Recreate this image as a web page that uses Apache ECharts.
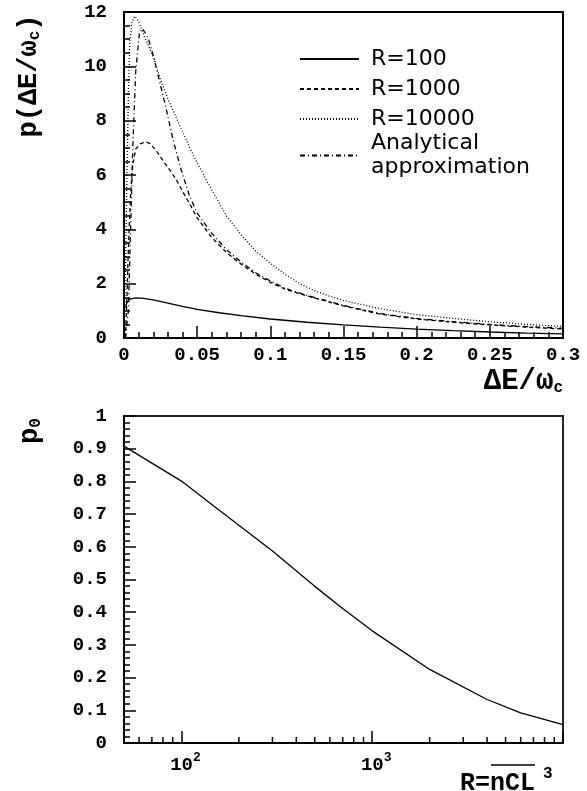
<!DOCTYPE html>
<html><head><meta charset="utf-8">
<script src="https://cdn.jsdelivr.net/npm/echarts@6/dist/echarts.min.js"></script>
<style>html,body{margin:0;padding:0;background:#fff}#c{width:587px;height:791px}</style>
</head><body><div id="c"></div>
<script>
// ---- Top panel: p(dE/wc) vs dE/wc ----
const r100X = [0.001,0.002,0.004,0.008,0.012,0.02,0.03,0.04,0.05,0.065,0.08,0.1,0.125,0.15,0.175,0.2,0.225,0.25,0.275,0.3];
const r100Y = [1.12,1.3,1.43,1.48,1.47,1.4,1.28,1.16,1.05,0.93,0.82,0.7,0.58,0.48,0.4,0.33,0.27,0.22,0.18,0.15];

const r1000X = [0.001,0.002,0.003,0.0045,0.006,0.008,0.011,0.015,0.018,0.022,0.027,0.032,0.036,0.04,0.045,0.05,0.06,0.07,0.08,0.09,0.1,0.11,0.125,0.15,0.175,0.2,0.225,0.25,0.275,0.3];
const r1000Y = [0,1.5,3.3,5.3,6.4,6.95,7.15,7.22,7.15,6.9,6.5,6.13,5.8,5.4,4.93,4.42,3.7,3.15,2.72,2.35,2.05,1.8,1.55,1.18,0.88,0.7,0.58,0.48,0.4,0.33];

const r10000X = [0,0.001,0.002,0.003,0.004,0.0055,0.0075,0.01,0.014,0.02,0.025,0.03,0.035,0.04,0.045,0.05,0.055,0.06,0.07,0.08,0.09,0.1,0.11,0.12,0.13,0.14,0.15,0.175,0.2,0.225,0.25,0.275,0.3];
const r10000Y = [0,2.5,6.0,9.0,10.9,11.65,11.85,11.65,11.1,10.35,9.5,8.8,8.2,7.6,7.0,6.45,5.95,5.45,4.5,3.8,3.2,2.75,2.35,2.0,1.75,1.55,1.38,1.08,0.86,0.72,0.6,0.5,0.43];

const anaX = [0.001,0.003,0.0045,0.006,0.008,0.0105,0.0125,0.0165,0.02,0.0245,0.029,0.0335,0.039,0.045,0.05,0.06,0.07,0.08,0.09,0.1,0.11,0.125,0.15,0.175,0.2,0.225,0.25,0.275,0.3];
const anaY = [0,1.0,4.0,7.0,9.8,11.2,11.4,11.05,10.4,9.4,8.4,7.3,6.2,5.2,4.6,3.85,3.25,2.8,2.4,2.1,1.83,1.57,1.2,0.9,0.72,0.6,0.5,0.42,0.36];

const seriesNames = ['R=100', 'R=1000', 'R=10000', 'Analytical approximation'];

// ---- Bottom panel: p0 vs R ----
const rVals = [50,70,100,150,200,300,500,700,1000,2000,4000,6000,10000];
const p0Vals = [0.908,0.856,0.801,0.722,0.666,0.587,0.479,0.411,0.343,0.225,0.133,0.092,0.056];
const logMinorTicks = [60,70,80,90,200,300,400,500,600,700,800,900,2000,3000,4000,5000,6000,7000,8000,9000];
const logLabels = {100: '2', 1000: '3'};

const zip = (xs, ys) => xs.map((x, i) => [x, ys[i]]);
const MONO = 'Liberation Mono';
const lbl = {fontFamily: MONO, fontWeight: 'bold', fontSize: 19, color: '#000'};
const TF = 27; // axis title font size

function lineSeries(name, xs, ys, dash) {
  return {
    name, type: 'line', xAxisIndex: 0, yAxisIndex: 0,
    data: zip(xs, ys), symbol: 'none', showSymbol: false, smooth: false,
    lineStyle: {color: '#000', width: 1.3, type: dash},
    itemStyle: {color: '#000'}, z: 3, silent: true
  };
}

const chart = echarts.init(document.getElementById('c'), null, {renderer: 'canvas'});
chart.setOption({
  animation: false,
  backgroundColor: '#fff',
  grid: [
    {left: 124, top: 12, width: 439, height: 326, show: true, borderColor: '#000', borderWidth: 2, backgroundColor: 'transparent'},
    {left: 124, top: 416, width: 439, height: 327, show: true, borderColor: '#222', borderWidth: 2, backgroundColor: 'transparent'}
  ],
  xAxis: [
    {gridIndex: 0, type: 'value', min: 0, max: 0.3, interval: 0.05,
     axisLine: {show: true, onZero: false, lineStyle: {color: '#000', width: 2}},
     axisTick: {show: true, inside: true, length: 12, lineStyle: {color: '#000', width: 1.5}},
     minorTick: {show: true, splitNumber: 5, length: 6, lineStyle: {color: '#000', width: 1.5}},
     splitLine: {show: false}, minorSplitLine: {show: false},
     axisLabel: Object.assign({margin: 8}, lbl)},
    {gridIndex: 1, type: 'log', logBase: 10, min: 50, max: 10000,
     axisLine: {show: true, onZero: false, lineStyle: {color: '#000', width: 2}},
     axisTick: {show: true, inside: true, length: 12, lineStyle: {color: '#000', width: 1.5}},
     splitLine: {show: false},
     axisLabel: {margin: 8, showMinLabel: true, showMaxLabel: true,
       formatter: v => logLabels[Math.round(v)] ? '{b|10}{s|' + logLabels[Math.round(v)] + '}' : '',
       rich: {b: Object.assign({verticalAlign: 'bottom', lineHeight: 24, padding: [0, 0, 0, 8]}, lbl),
              s: {fontFamily: MONO, fontWeight: 'bold', fontSize: 13, color: '#000', verticalAlign: 'top', lineHeight: 24}}}}
  ],
  yAxis: [
    {gridIndex: 0, type: 'value', min: 0, max: 12, interval: 2,
     axisLine: {show: true, onZero: false, lineStyle: {color: '#000', width: 2}},
     axisTick: {show: true, inside: true, length: 12, lineStyle: {color: '#000', width: 1.5}},
     minorTick: {show: true, splitNumber: 4, length: 6, lineStyle: {color: '#000', width: 1.5}},
     splitLine: {show: false}, minorSplitLine: {show: false},
     axisLabel: Object.assign({margin: 17}, lbl)},
    {gridIndex: 1, type: 'value', min: 0, max: 1, interval: 0.1,
     axisLine: {show: true, onZero: false, lineStyle: {color: '#000', width: 2}},
     axisTick: {show: true, inside: true, length: 12, lineStyle: {color: '#000', width: 1.5}},
     minorTick: {show: true, splitNumber: 5, length: 6, lineStyle: {color: '#000', width: 1.5}},
     splitLine: {show: false}, minorSplitLine: {show: false},
     axisLabel: Object.assign({margin: 17}, lbl)}
  ],
  legend: {
    data: seriesNames, orient: 'vertical', left: 299, top: 41.5, padding: 0,
    itemWidth: 59, itemHeight: 10, itemGap: -5, selectedMode: false,
    itemStyle: {opacity: 0},
    formatter: name => name === 'Analytical approximation' ? '{t|Analytical}\n{t|approximation}' : name,
    textStyle: {fontFamily: 'DejaVu Sans', fontSize: 22, lineHeight: 35, color: '#000', padding: [0, 0, 0, 7],
      rich: {t: {fontFamily: 'DejaVu Sans', fontSize: 22, lineHeight: 24, color: '#000'}}}
  },
  series: [
    lineSeries('R=100', r100X, r100Y, 'solid'),
    lineSeries('R=1000', r1000X, r1000Y, [4, 3]),
    lineSeries('R=10000', r10000X, r10000Y, [1, 2]),
    lineSeries('Analytical approximation', anaX, anaY, [5, 3, 1, 3]),
    {name: 'p0', type: 'line', xAxisIndex: 1, yAxisIndex: 1, data: zip(rVals, p0Vals),
     symbol: 'none', showSymbol: false, lineStyle: {color: '#000', width: 1.3}, silent: true},
    {name: 'logMinor', type: 'custom', xAxisIndex: 1, yAxisIndex: 1, silent: true, z: 5,
     data: logMinorTicks.map(v => [v, 0]),
     renderItem: (params, api) => {
       const p = api.coord([api.value(0), 0]);
       return {type: 'line', shape: {x1: p[0], y1: p[1], x2: p[0], y2: p[1] - 6},
               style: {stroke: '#000', lineWidth: 1.5}};
     }}
  ],
  graphic: [
    {type: 'text', x: 28, y: 76, rotation: Math.PI / 2,
     style: {text: '{a|p(ΔE/ω}{c|c}{a|)}', align: 'center', verticalAlign: 'middle',
       rich: {a: {fontFamily: MONO, fontWeight: 'bold', fontSize: TF, color: '#000', verticalAlign: 'bottom', lineHeight: 30},
              c: {fontFamily: MONO, fontWeight: 'bold', fontSize: 16, color: '#000', verticalAlign: 'bottom', lineHeight: 22}}}},
    {type: 'text', x: 563, y: 381,
     style: {text: '{a|ΔE/ω}{c|c}', align: 'right', verticalAlign: 'middle',
       rich: {a: {fontFamily: MONO, fontWeight: 'bold', fontSize: 29, color: '#000', verticalAlign: 'bottom', lineHeight: 30},
              c: {fontFamily: MONO, fontWeight: 'bold', fontSize: 16, color: '#000', verticalAlign: 'bottom', lineHeight: 22}}}},
    {type: 'text', x: 29, y: 431, rotation: Math.PI / 2,
     style: {text: '{a|p}{c|0}', align: 'center', verticalAlign: 'middle',
       rich: {a: {fontFamily: MONO, fontWeight: 'bold', fontSize: TF, color: '#000', verticalAlign: 'bottom', lineHeight: 30},
              c: {fontFamily: MONO, fontWeight: 'bold', fontSize: 16, color: '#000', verticalAlign: 'bottom', lineHeight: 22}}}},
    {type: 'text', x: 460, y: 781,
     style: {text: '{a|R=nCL}{s|3}', align: 'left', verticalAlign: 'middle',
       rich: {a: {fontFamily: MONO, fontWeight: 'bold', fontSize: 25, color: '#000', verticalAlign: 'bottom', lineHeight: 30},
              s: {fontFamily: MONO, fontWeight: 'bold', fontSize: 16, color: '#000', verticalAlign: 'top', lineHeight: 30, padding: [0, 0, 0, 8]}}}},
    {type: 'line', shape: {x1: 491, y1: 765, x2: 535, y2: 765}, style: {stroke: '#000', lineWidth: 1.5}}
  ]
});
</script></body></html>
